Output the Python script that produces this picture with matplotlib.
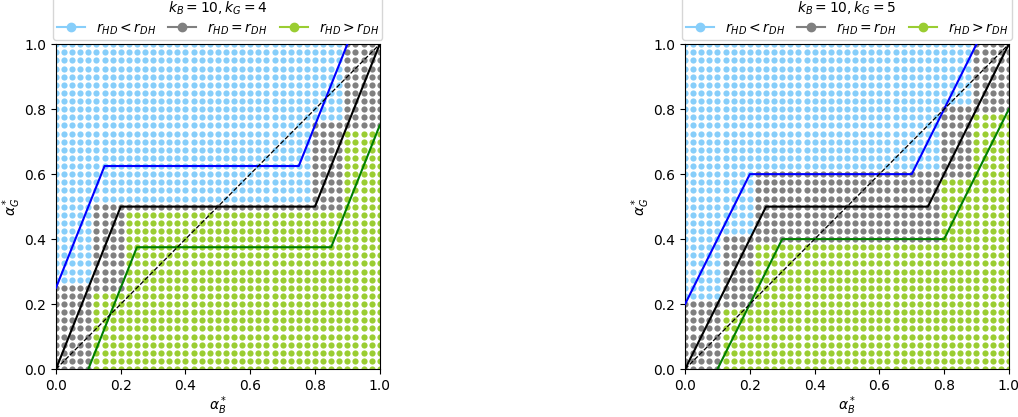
import numpy as np
import matplotlib
matplotlib.use("Agg")
import matplotlib.pyplot as plt
from matplotlib.lines import Line2D

# ---------------- data ----------------
grid_step = 0.025
n_grid = 41
titles = ["$k_B = 10, k_G = 4$", "$k_B = 10, k_G = 5$"]

# alpha_B bins and the alpha_G band where r_HD = r_DH in each bin
x_edges = [0.0, 0.1, 0.2, 0.8, 0.9, 1.0]
gray_lo_L = [0.0, 0.25, 0.5, 0.5, 0.75]
gray_hi_L = [0.25, 0.5, 0.5, 0.75, 1.0]
gray_lo_R = [0.0, 0.2, 0.4, 0.6, 0.8]
gray_hi_R = [0.2, 0.4, 0.6, 0.8, 1.0]

# boundary lines (vertices)
blue_x_L = [0.0, 0.15, 0.75, 0.9]
blue_y_L = [0.25, 0.625, 0.625, 1.0]
black_x_L = [0.0, 0.2, 0.8, 1.0]
black_y_L = [0.0, 0.5, 0.5, 1.0]
green_x_L = [0.1, 0.25, 0.85, 1.0]
green_y_L = [0.0, 0.375, 0.375, 0.75]

blue_x_R = [0.0, 0.2, 0.7, 0.9]
blue_y_R = [0.2, 0.6, 0.6, 1.0]
black_x_R = [0.0, 0.25, 0.75, 1.0]
black_y_R = [0.0, 0.5, 0.5, 1.0]
green_x_R = [0.1, 0.3, 0.8, 1.0]
green_y_R = [0.0, 0.4, 0.4, 0.8]

diag = [0.0, 1.0]
ticks = [0.0, 0.2, 0.4, 0.6, 0.8, 1.0]
labels = [r"$r_{HD} < r_{DH}$", r"$r_{HD} = r_{DH}$", r"$r_{HD} > r_{DH}$"]

C_LESS = "#87CEFA"
C_EQ = "#808080"
C_MORE = "#9ACD32"

panels = [
    dict(title=titles[0], lo=gray_lo_L, hi=gray_hi_L,
         lines=[(blue_x_L, blue_y_L, "blue"), (black_x_L, black_y_L, "black"),
                (green_x_L, green_y_L, "green")]),
    dict(title=titles[1], lo=gray_lo_R, hi=gray_hi_R,
         lines=[(blue_x_R, blue_y_R, "blue"), (black_x_R, black_y_R, "black"),
                (green_x_R, green_y_R, "green")]),
]


def classify(lo, hi):
    g = np.round(np.arange(n_grid) * grid_step, 6)
    X, Y = np.meshgrid(g, g)
    X = X.ravel()
    Y = Y.ravel()
    edges = np.array(x_edges)
    nb = len(lo)
    idx = np.where(X < 0.5,
                   np.searchsorted(edges, X, side="left") - 1,
                   np.searchsorted(edges, X, side="right") - 1)
    idx = np.clip(idx, 0, nb - 1)
    lo_a = np.array(lo)[idx]
    hi_a = np.array(hi)[idx]
    eps = 1e-9
    cls = np.where(Y > hi_a + eps, 0, np.where(Y < lo_a - eps, 2, 1))
    return X, Y, cls


fig = plt.figure(figsize=(10.18, 4.17), dpi=100)
axes_pos = [[0.055, 0.115, 0.318, 0.779], [0.673, 0.115, 0.318, 0.779]]

for pos, p in zip(axes_pos, panels):
    ax = fig.add_axes(pos)
    X, Y, cls = classify(p["lo"], p["hi"])
    for k, col in enumerate([C_LESS, C_EQ, C_MORE]):
        m = cls == k
        ax.scatter(X[m], Y[m], s=20, color=col, linewidths=0, zorder=1)
    for xs, ys, col in p["lines"]:
        ax.plot(xs, ys, color=col, lw=1.5, zorder=3)
    ax.plot(diag, diag, color="black", lw=0.9, ls="--", zorder=3)
    ax.set_xlim(0, 1)
    ax.set_ylim(0, 1)
    ax.set_xticks(ticks)
    ax.set_yticks(ticks)
    ax.set_xlabel(r"$\alpha_B^*$", labelpad=1)
    ax.set_ylabel(r"$\alpha_G^*$", labelpad=1)
    handles = [Line2D([], [], color=c, marker="o", markersize=6, lw=1.5)
               for c in [C_LESS, C_EQ, C_MORE]]
    ax.legend(handles, labels, title=p["title"], loc="lower center",
              bbox_to_anchor=(0.5, 1.0), ncol=3, fontsize=10,
              title_fontsize=10, borderaxespad=0.3, columnspacing=0.9,
              handletextpad=0.8, borderpad=0.25, labelspacing=0.3)

fig.savefig("out.png", dpi=100)
